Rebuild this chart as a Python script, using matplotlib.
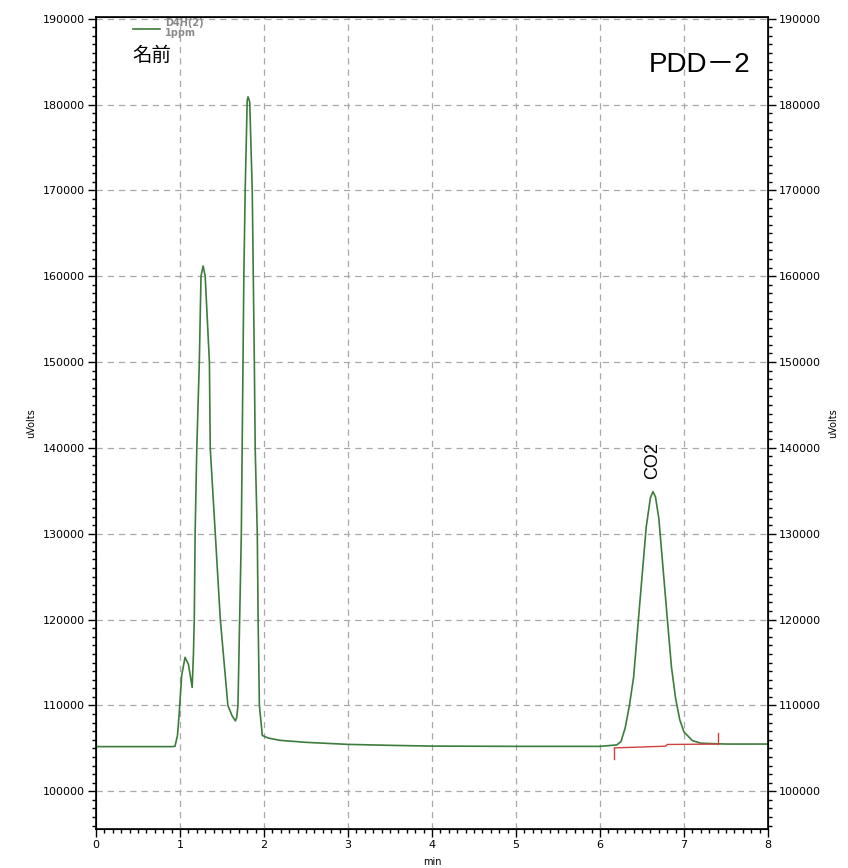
import matplotlib
matplotlib.use("Agg")
import matplotlib.pyplot as plt
from matplotlib.ticker import MultipleLocator

plt.rcParams["font.family"] = ["DejaVu Sans", "Noto Sans CJK JP"]

# chromatogram trace (min, uVolts)
time_min = [0.0, 0.9, 0.94, 0.97, 0.99, 1.02, 1.06, 1.10, 1.145, 1.16, 1.17,
            1.18, 1.20, 1.23, 1.25, 1.275, 1.30, 1.35, 1.36, 1.42, 1.48, 1.57,
            1.62, 1.66, 1.675, 1.69, 1.71, 1.73, 1.74, 1.75, 1.76, 1.776, 1.80,
            1.81, 1.83, 1.86, 1.885, 1.895, 1.92, 1.93, 1.945, 1.98, 2.05,
            2.19, 2.5, 3.0, 3.5, 4.0, 5.0, 6.0, 6.20, 6.25, 6.30, 6.35, 6.40,
            6.45, 6.50, 6.55, 6.60, 6.63, 6.66, 6.70, 6.75, 6.80, 6.85, 6.90,
            6.95, 7.00, 7.10, 7.20, 7.5, 8.0]
signal = [105200, 105200, 105230, 106500, 109000, 113500, 115600, 114800,
          112100, 116000, 120000, 130000, 140000, 150000, 160000, 161200,
          160000, 150000, 140000, 130000, 120000, 110000, 108800, 108200,
          108600, 110000, 120000, 130000, 140000, 150000, 160000, 170000,
          180500, 180900, 180300, 170000, 150000, 140000, 130000, 120000,
          110000, 106500, 106200, 105930, 105700, 105460, 105350, 105260,
          105230, 105230, 105400, 105800, 107400, 110000, 113300, 119200,
          125000, 130800, 134200, 134900, 134300, 131800, 126000, 120200,
          114500, 110800, 108300, 106900, 105900, 105600, 105500, 105500]

# integration baseline for the CO2 peak
base_t = [6.17, 6.78, 6.80, 7.40]
base_v = [105050, 105250, 105450, 105500]
tick_start = [6.17, 105050, 103800]
tick_end = [7.40, 105500, 106800]

peak_name = "CO2"
peak_t = 6.63
peak_v = 134900

fig = plt.figure(figsize=(8.48, 8.68), dpi=100)
ax = fig.add_axes([0.1132, 0.0449, 0.7925, 0.9355])
ax2 = ax.twinx()

ax.plot(time_min, signal, color="#3c7c3c", lw=1.2, label="D4H(2)\n1ppm")
ax.plot(base_t, base_v, color="#d04040", lw=1.0)
ax.plot([tick_start[0], tick_start[0]], tick_start[1:], color="#d04040", lw=1.0)
ax.plot([tick_end[0], tick_end[0]], tick_end[1:], color="#d04040", lw=1.0)

ax.text(peak_t, peak_v + 1500, peak_name, rotation=90, ha="left",
        va="center", fontsize=13, rotation_mode="anchor",
        family=["Liberation Sans"])

ax.set_xlim(0, 8)
ax.set_ylim(95600, 190200)
ax.xaxis.set_major_locator(MultipleLocator(1))
ax.xaxis.set_minor_locator(MultipleLocator(0.1))
ax.yaxis.set_major_locator(MultipleLocator(10000))
ax.yaxis.set_minor_locator(MultipleLocator(1000))
ax.tick_params(which="major", length=6, width=1, labelsize=8, pad=2,
               direction="out")
ax.tick_params(which="minor", length=3, width=1, direction="out")
for s in ax.spines.values():
    s.set_linewidth(1.2)
ax.grid(True, which="major", ls=(0, (5, 4)), color="#a8a8a8", lw=0.9)

# right hand axis carries the same scale
ax2.set_ylim(ax.get_ylim())
ax2.yaxis.set_major_locator(MultipleLocator(10000))
ax2.yaxis.set_minor_locator(MultipleLocator(1000))
ax2.tick_params(which="major", length=6, width=1, labelsize=8, pad=2,
                direction="out")
ax2.tick_params(which="minor", length=3, width=1, direction="out")

ax.set_xlabel("min", fontsize=7, labelpad=5)
ax.set_ylabel("uVolts", fontsize=7, labelpad=5)
ax2.set_ylabel("uVolts", fontsize=7, rotation=90, labelpad=5)

leg = ax.legend(loc="upper left", bbox_to_anchor=(0.042, 1.010), frameon=False,
                handlelength=2.8, handletextpad=0.5,
                prop={"weight": "bold", "size": 7})
for t in leg.get_texts():
    t.set_color("#8a8a8a")
    t.set_linespacing(1.1)

ax.text(0.054, 0.965, "名前", transform=ax.transAxes, fontsize=14,
        family=["Noto Sans CJK JP"], va="top", ha="left")
ax.text(0.973, 0.957, "PDD－2", transform=ax.transAxes, fontsize=20,
        family=["Liberation Sans", "Noto Sans CJK JP"], va="top", ha="right")

fig.savefig("out.png", dpi=100)
